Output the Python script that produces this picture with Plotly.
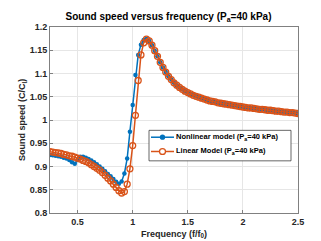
import plotly.graph_objects as go

freq = [0.25, 0.275, 0.3, 0.325, 0.35, 0.375, 0.4, 0.425, 0.45, 0.475,
        0.5, 0.525, 0.55, 0.575, 0.6, 0.625, 0.65, 0.675, 0.7, 0.725,
        0.75, 0.775, 0.8, 0.825, 0.85, 0.875, 0.9, 0.925, 0.95, 0.975,
        1.0, 1.025, 1.05, 1.075, 1.1, 1.125, 1.15, 1.175, 1.2, 1.225,
        1.25, 1.275, 1.3, 1.325, 1.35, 1.375, 1.4, 1.425, 1.45, 1.475,
        1.5, 1.525, 1.55, 1.575, 1.6, 1.625, 1.65, 1.675, 1.7, 1.725,
        1.75, 1.775, 1.8, 1.825, 1.85, 1.875, 1.9, 1.925, 1.95, 1.975,
        2.0, 2.025, 2.05, 2.075, 2.1, 2.125, 2.15, 2.175, 2.2, 2.225,
        2.25, 2.275, 2.3, 2.325, 2.35, 2.375, 2.4, 2.425, 2.45, 2.475, 2.5]

tail = [1.170, 1.161, 1.149, 1.137,
        1.124, 1.113, 1.103, 1.094, 1.087, 1.080, 1.075, 1.070, 1.066, 1.062,
        1.059, 1.056, 1.053, 1.051, 1.049, 1.047, 1.045, 1.043, 1.041, 1.040,
        1.039, 1.037, 1.036, 1.035, 1.034, 1.033, 1.032, 1.031, 1.030, 1.029,
        1.028, 1.027, 1.026, 1.026, 1.025, 1.024, 1.023, 1.023, 1.022, 1.021,
        1.021, 1.020, 1.019, 1.019, 1.018, 1.017, 1.017, 1.016, 1.016, 1.015, 1.014]

nonlinear = [0.925, 0.924, 0.923, 0.922, 0.921, 0.919, 0.917, 0.914, 0.909, 0.906,
             0.914, 0.921, 0.921, 0.919, 0.916, 0.913, 0.909, 0.905, 0.900, 0.895,
             0.890, 0.884, 0.879, 0.873, 0.867, 0.863, 0.868, 0.885, 0.917, 0.975,
             1.032, 1.097, 1.140, 1.162, 1.172, 1.174] + tail

linear = [0.932, 0.931, 0.930, 0.929, 0.928, 0.926, 0.925, 0.923, 0.922, 0.920,
          0.918, 0.916, 0.913, 0.911, 0.908, 0.904, 0.900, 0.896, 0.892, 0.887,
          0.881, 0.875, 0.869, 0.862, 0.855, 0.848, 0.843, 0.846, 0.862, 0.895,
          0.945, 1.010, 1.085, 1.140, 1.166, 1.174] + tail

series_names = ["Nonlinear model (P<sub>a</sub>=40 kPa)",
                "Linear Model (P<sub>a</sub>=40 kPa)"]

x_ticks = [0.5, 1, 1.5, 2, 2.5]
x_tick_text = ["0.5", "1", "1.5", "2", "2.5"]
y_ticks = [0.8, 0.85, 0.9, 0.95, 1.0, 1.05, 1.1, 1.15, 1.2]
y_tick_text = ["0.8", "0.85", "0.9", "0.95", "1", "1.05", "1.1", "1.15", "1.2"]

BLUE = "#0072BD"
ORANGE = "#D95319"
FONT = "Liberation Sans, Arial, sans-serif"

W, H = 321, 241
ML, MR, MT, MB = 42, 31, 19, 33
PW, PH = W - ML - MR, H - MT - MB


def px(xp):
    return (xp - ML) / PW


def py(yp):
    return (H - MB - yp) / PH


def bold(size, color="#262626"):
    return dict(family=FONT, size=size, color=color, weight="bold")


fig = go.Figure()
fig.add_trace(go.Scatter(
    x=freq, y=nonlinear, mode="lines+markers", name=series_names[0],
    line=dict(color=BLUE, width=1.5),
    marker=dict(color=BLUE, size=4.5, symbol="circle"), showlegend=False))
fig.add_trace(go.Scatter(
    x=freq, y=linear, mode="lines+markers", name=series_names[1],
    line=dict(color=ORANGE, width=1.5),
    marker=dict(color=ORANGE, size=6, symbol="circle-open",
                line=dict(color=ORANGE, width=1.3)), showlegend=False))

# legend box (drawn manually to match the compact MATLAB legend)
shapes = [dict(type="rect", xref="paper", yref="paper",
               x0=px(141), x1=px(283), y0=py(155), y1=py(124),
               fillcolor="white", line=dict(color="#262626", width=0.7))]
annotations = []
rows = [(131, BLUE, "dot"), (145.5, ORANGE, "ring")]
for (yrow, col, kind), name in zip(rows, series_names):
    shapes.append(dict(type="line", xref="paper", yref="paper",
                       x0=px(143), x1=px(166), y0=py(yrow), y1=py(yrow),
                       line=dict(color=col, width=1.5)))
    r = 2 if kind == "dot" else 3
    shapes.append(dict(type="circle", xref="paper", yref="paper",
                       x0=px(154.5 - r), x1=px(154.5 + r),
                       y0=py(yrow + r), y1=py(yrow - r),
                       fillcolor=col if kind == "dot" else "white",
                       line=dict(color=col, width=1.3)))
    annotations.append(dict(xref="paper", yref="paper", x=px(166), y=py(yrow),
                            xanchor="left", yanchor="middle", showarrow=False,
                            text=name, font=bold(7.5, "#000000")))

fig.update_layout(
    width=W, height=H,
    margin=dict(l=ML, r=MR, t=MT, b=MB),
    paper_bgcolor="white", plot_bgcolor="white",
    font=dict(family=FONT, size=9, color="#262626"),
    title=dict(text="Sound speed versus frequency (P<sub>a</sub>=40 kPa)",
               x=0.5, xanchor="center", y=0.965, yanchor="middle",
               font=bold(10, "#000000")),
    showlegend=False,
    shapes=shapes, annotations=annotations,
)
fig.update_xaxes(
    range=[0.25, 2.5], tickvals=x_ticks, ticktext=x_tick_text,
    showgrid=True, gridcolor="#e6e6e6", gridwidth=0.7,
    showline=True, linecolor="#808080", linewidth=0.8, mirror=True,
    ticks="inside", ticklen=3, tickcolor="#808080",
    zeroline=False, tickfont=bold(9),
    title=dict(text="Frequency (f/f<sub>0</sub>)", standoff=4, font=bold(9)))
fig.update_yaxes(
    range=[0.8, 1.2], tickvals=y_ticks, ticktext=y_tick_text,
    showgrid=True, gridcolor="#e6e6e6", gridwidth=0.7,
    showline=True, linecolor="#808080", linewidth=0.8, mirror=True,
    ticks="inside", ticklen=3, tickcolor="#808080",
    zeroline=False, tickfont=bold(9),
    title=dict(text="Sound speed (C/C<sub>l</sub>)", standoff=2, font=bold(9)))

fig.write_html("out.html")
